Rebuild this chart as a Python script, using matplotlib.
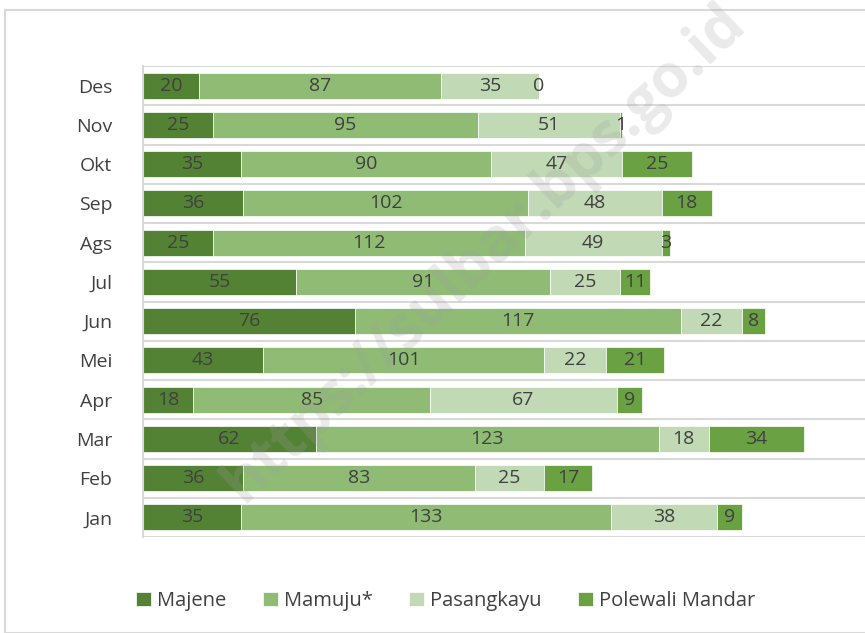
import numpy as np
import matplotlib.pyplot as plt
from matplotlib.patches import Rectangle

bulan = ['Jan', 'Feb', 'Mar', 'Apr', 'Mei', 'Jun', 'Jul', 'Ags', 'Sep', 'Okt', 'Nov', 'Des']
majene = [35, 36, 62, 18, 43, 76, 55, 25, 36, 35, 25, 20]
mamuju = [133, 83, 123, 85, 101, 117, 91, 112, 102, 90, 95, 87]
pasangkayu = [38, 25, 18, 67, 22, 22, 25, 49, 48, 47, 51, 35]
polman = [9, 17, 34, 9, 21, 8, 11, 3, 18, 25, 1, 0]

seri = [('Majene', majene, '#548235'),
        ('Mamuju*', mamuju, '#8fbb74'),
        ('Pasangkayu', pasangkayu, '#c1d9b5'),
        ('Polewali Mandar', polman, '#6aa143')]

plt.rcParams['font.family'] = ['Open Sans', 'DejaVu Sans']
fig = plt.figure(figsize=(8.65, 6.33), dpi=100)
fig.patches.append(Rectangle((5/865, 0), 1, 1 - 10/633, transform=fig.transFigure,
                             fill=False, edgecolor='#d9d9d9', lw=1.5))
ax = fig.add_axes([143/865, 1 - 537/633, 1 - 143/865, (537 - 66)/633])

y = np.arange(len(bulan))
kiri = np.zeros(len(bulan))
for nama, nilai, warna in seri:
    b = ax.barh(y, nilai, left=kiri, height=0.66, color=warna, label=nama,
                edgecolor='white', linewidth=0.5)
    ax.bar_label(b, label_type='center', fontsize=14, color='#404040')
    kiri += np.array(nilai)

ax.set_ylim(-0.5, len(bulan) - 0.5)
ax.set_xlim(0, 259)
ax.set_yticks(y)
ax.set_yticklabels(bulan, fontsize=14, color='#404040')
ax.tick_params(axis='y', length=0, pad=22)
ax.set_xticks([])
for g in np.arange(-0.5, len(bulan), 1):
    ax.axhline(g, color='#d9d9d9', lw=1.5, zorder=0)
for s in ['top', 'right', 'bottom']:
    ax.spines[s].set_visible(False)
ax.spines['left'].set_color('#d9d9d9')
ax.spines['left'].set_linewidth(1.5)

# watermark
fig.text(0.56, 0.6, 'https://sulbar.bps.go.id', rotation=43.5, fontsize=43,
         fontweight='bold', color='#a0a0a0', alpha=0.22, ha='center', va='center')

fig.legend(loc='center', bbox_to_anchor=(0.515, 1 - 601/633), ncol=4, frameon=False,
           fontsize=14.5, handlelength=0.75, handleheight=0.75, handletextpad=0.3,
           columnspacing=1.8, labelcolor='#404040')

plt.savefig('out.png', dpi=100)
